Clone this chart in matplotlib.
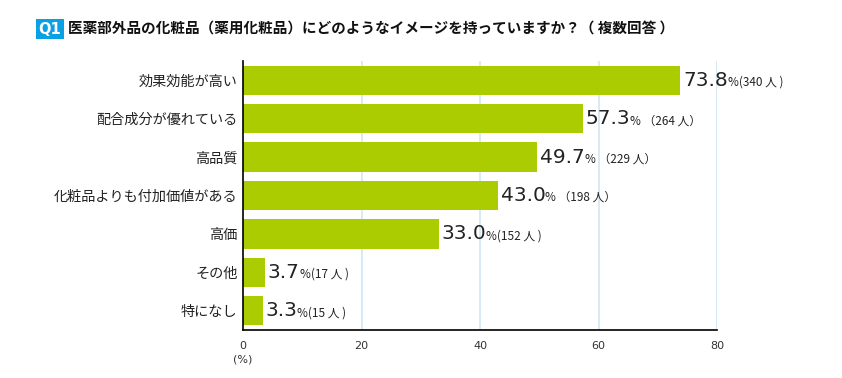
import matplotlib.pyplot as plt
from matplotlib.offsetbox import TextArea, HPacker, AnnotationBbox

plt.rcParams['font.family'] = ['Noto Sans CJK JP', 'DejaVu Sans']

# data
categories = ['効果効能が高い', '配合成分が優れている', '高品質', '化粧品よりも付加価値がある',
              '高価', 'その他', '特になし']
percents = [73.8, 57.3, 49.7, 43.0, 33.0, 3.7, 3.3]
counts = [340, 264, 229, 198, 152, 17, 15]
suffixes = ['%(340 人 )', '% （264 人）', '% （229 人）', '% （198 人）',
            '%(152 人 )', '%(17 人 )', '%(15 人 )']
xticks = [0, 20, 40, 60, 80]

bar_color = '#aacc00'
grid_color = '#cfe6f4'

fig = plt.figure(figsize=(8.42, 3.78), dpi=100)
ax = fig.add_axes([243 / 842, 1 - 330 / 378, (717 - 243) / 842, (330 - 61) / 378])

ypos = list(range(len(categories)))[::-1]
ax.barh(ypos, percents, height=0.76, color=bar_color, zorder=2)

ax.set_xlim(0, 80)
ax.set_ylim(-0.5, len(categories) - 0.5)
ax.set_xticks(xticks)
ax.set_xticklabels([str(t) for t in xticks], fontsize=8, color='#333333', family='DejaVu Sans')
ax.tick_params(axis='x', length=0, pad=8)
ax.set_yticks(ypos)
ax.set_yticklabels(categories, fontsize=10.2, color='#222222')
ax.tick_params(axis='y', length=0, pad=4)

for t in xticks[1:]:
    ax.axvline(t, color=grid_color, lw=1.2, zorder=1)
for s in ['top', 'right']:
    ax.spines[s].set_visible(False)
for s in ['left', 'bottom']:
    ax.spines[s].set_color('black')
    ax.spines[s].set_linewidth(1.2)

# value labels: big number + small suffix
for y, p, suf in zip(ypos, percents, suffixes):
    big = TextArea(f'{p:.1f}', textprops=dict(fontsize=14.5, color='#222222', family='DejaVu Sans'))
    small = TextArea(suf, textprops=dict(fontsize=8.5, color='#222222'))
    pack = HPacker(children=[big, small], align='baseline', pad=0, sep=0)
    ab = AnnotationBbox(pack, (p, y), xybox=(2, 0), xycoords='data', boxcoords='offset points',
                        box_alignment=(0, 0.5), frameon=False)
    ax.add_artist(ab)

# "(%)" under 0
fig.text(243 / 842, 1 - 360 / 378, '(%)', fontsize=8, color='#333333', ha='center', va='center',
         family='DejaVu Sans')

# title
fig.text(50 / 842, 1 - 29 / 378, 'Q1', fontsize=10.5, fontweight='bold', color='white',
         ha='center', va='center', family='DejaVu Sans',
         bbox=dict(boxstyle='square,pad=0.2', facecolor='#0aa0e6', edgecolor='none'))
fig.text(68 / 842, 1 - 29 / 378, '医薬部外品の化粧品（薬用化粧品）にどのようなイメージを持っていますか？（ 複数回答 ）',
         fontsize=10.5, fontweight='bold', color='#111111', ha='left', va='center')

fig.savefig('out.png', dpi=100)
